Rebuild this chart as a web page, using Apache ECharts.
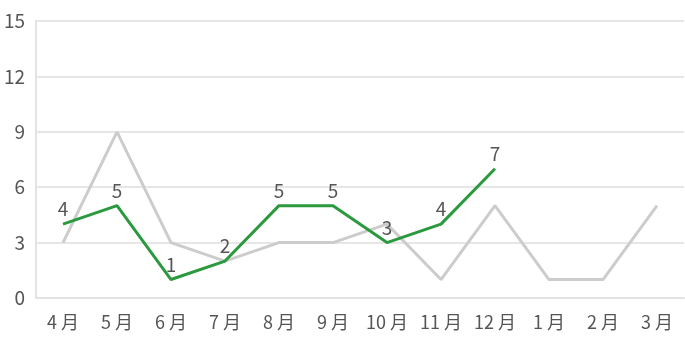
<!DOCTYPE html>
<html><head><meta charset="utf-8">
<script src="https://cdn.jsdelivr.net/npm/echarts@6/dist/echarts.min.js"></script>
<style>html,body{margin:0;padding:0;background:#fff}#c{width:685px;height:352px}</style>
</head><body><div id="c"></div>
<script>
const categories = ['4月','5月','6月','7月','8月','9月','10月','11月','12月','1月','2月','3月'];
const prevYear = [3,9,3,2,3,3,4,1,5,1,1,5];
const thisYear = [4,5,1,2,5,5,3,4,7];
const yTicks = [0,3,6,9,12,15];
const font = '"Noto Sans CJK JP", "Noto Sans", sans-serif';
const chart = echarts.init(document.getElementById('c'), null, {renderer:'canvas'});
chart.setOption({
  animation:false,
  grid:{left:36,right:1,top:21,bottom:54},
  xAxis:{type:'category',data:categories,boundaryGap:true,
    axisLine:{lineStyle:{color:'#e3e3e3',width:2}},axisTick:{show:false},
    axisLabel:{interval:0,color:'#555',fontSize:18,fontFamily:font,margin:15,
      formatter:function(v){return v.replace('月',' 月');}}},
  yAxis:{type:'value',min:yTicks[0],max:yTicks[yTicks.length-1],interval:3,
    axisLine:{show:true,lineStyle:{color:'#e3e3e3',width:2}},axisTick:{show:false},
    splitLine:{lineStyle:{color:'#e6e6e6',width:2}},
    axisLabel:{color:'#555',fontSize:19,fontFamily:font,margin:11}},
  series:[
    {type:'line',data:prevYear,symbol:'none',lineStyle:{color:'#cccccc',width:3},z:1},
    {type:'line',data:thisYear,symbol:'circle',symbolSize:1,showSymbol:true,
      itemStyle:{color:'rgba(0,0,0,0)'},lineStyle:{color:'#2b9a3e',width:3},z:2,
      label:{show:true,position:'top',color:'#555',fontSize:19,fontFamily:font,distance:5}}
  ]
});
</script></body></html>
